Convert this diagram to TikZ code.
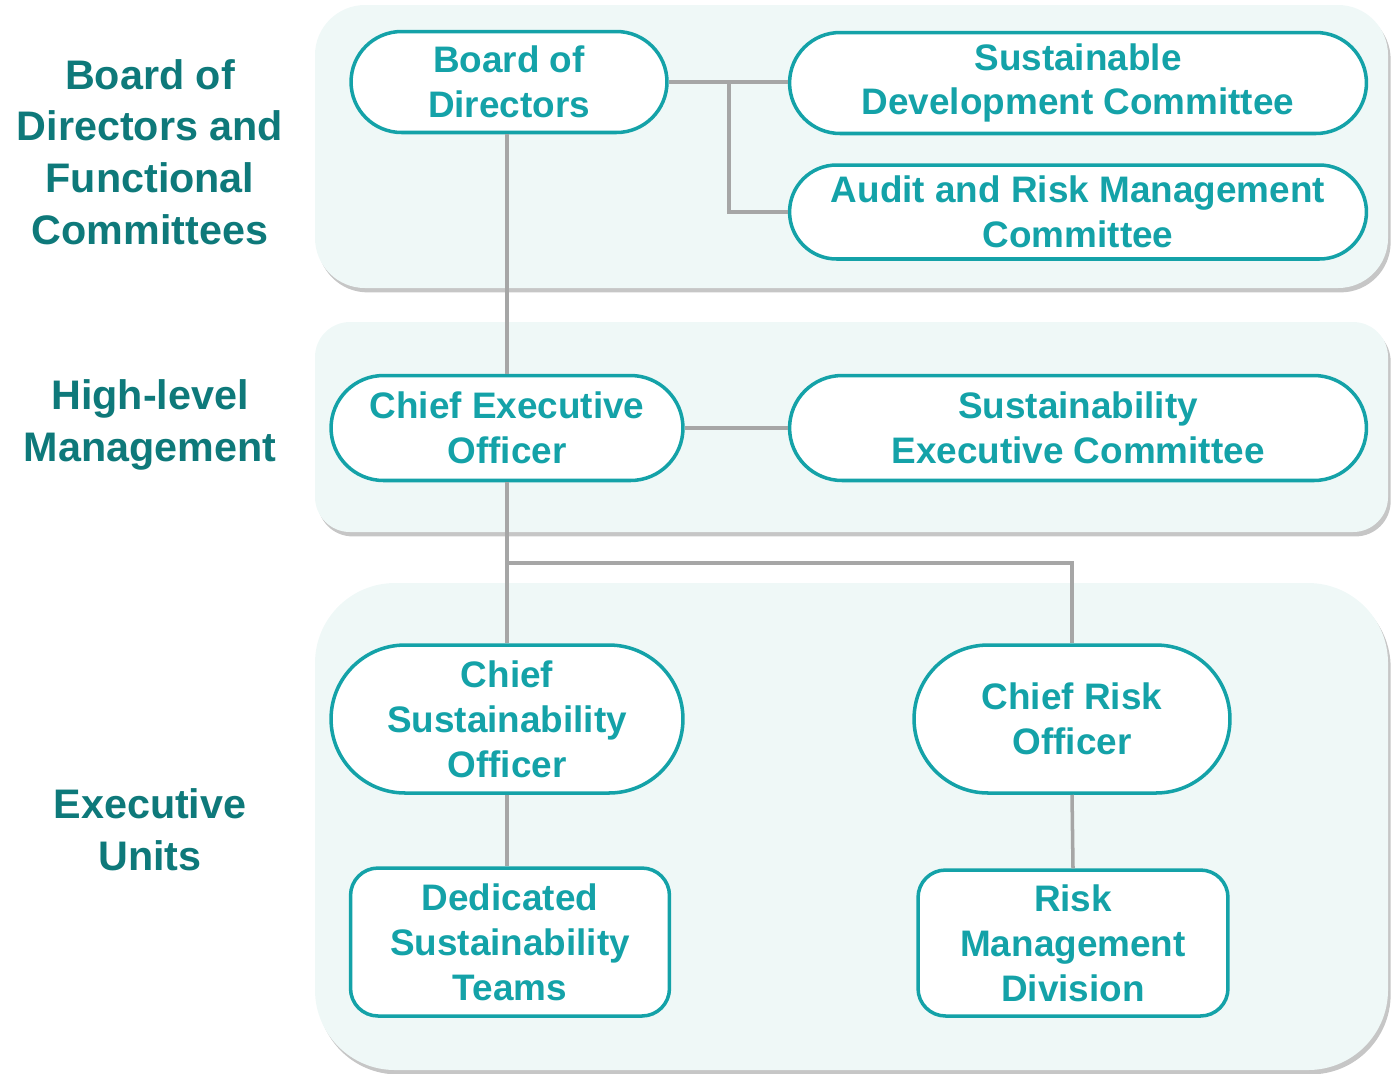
\documentclass[tikz,border=0pt]{standalone}
\usepackage{fontspec}
\setmainfont{Liberation Sans}
\usetikzlibrary{shapes.misc,shadows}
\definecolor{TealBox}{RGB}{20,162,168}
\definecolor{TealDark}{RGB}{14,121,122}
\definecolor{PanelFill}{RGB}{239,248,247}
\definecolor{LineGray}{RGB}{166,166,166}
\tikzset{
  panel/.style={fill=PanelFill, draw=none,
    drop shadow={shadow xshift=1.5pt, shadow yshift=-2.5pt, opacity=0.45, fill=gray}},
  pill/.style={rounded rectangle, draw=TealBox, line width=2pt, fill=white,
    text=TealBox, align=center, inner sep=0pt,
    font=\fontsize{21}{25.5}\selectfont\bfseries},
  box/.style={rectangle, rounded corners=0.55cm, draw=TealBox, line width=2pt, fill=white,
    text=TealBox, align=center, inner sep=0pt,
    font=\fontsize{21}{25.5}\selectfont\bfseries},
  lab/.style={text=TealDark, align=center, inner sep=0pt,
    font=\fontsize{23.5}{29.5}\selectfont\bfseries},
  link/.style={draw=LineGray, line width=2pt}
}
\begin{document}
\begin{tikzpicture}[x=0.02cm,y=-0.02cm]
  \useasboundingbox (0,0) rectangle (1391,1073);
  %Panels
  \path[panel, rounded corners=1cm] (315,5) rectangle (1388,288);
  \path[panel, rounded corners=0.7cm] (315,322) rectangle (1388,532);
  \path[panel, rounded corners=1.6cm] (315,583) rectangle (1388,1070);
  %Level labels
  \node[lab] (lvlboard) at (150,152) {Board of\\Directors and\\Functional\\Committees};
  \node[lab] (lvlhigh) at (150,425) {High-level\\Management};
  \node[lab] (lvlexec) at (150,830) {Executive\\Units};
  %Nodes
  \node[pill, minimum width=6.32cm, minimum height=2.02cm] (bod) at (509,82) {Board of\\Directors};
  \node[pill, minimum width=11.54cm, minimum height=2.02cm] (sdc) at (1078,83) {Sustainable\\Development Committee};
  \node[pill, minimum width=11.54cm, minimum height=1.88cm] (armc) at (1078,212) {Audit and Risk Management\\Committee};
  \node[pill, minimum width=7.04cm, minimum height=2.1cm] (ceo) at (507,428) {Chief Executive\\Officer};
  \node[pill, minimum width=11.54cm, minimum height=2.1cm] (sec) at (1078,428) {Sustainability\\Executive Committee};
  \node[pill, minimum width=7.04cm, minimum height=2.96cm] (cso) at (507,719) {Chief\\Sustainability\\Officer};
  \node[pill, minimum width=6.32cm, minimum height=2.96cm] (cro) at (1072,719) {Chief Risk\\Officer};
  \node[box, minimum width=6.38cm, minimum height=2.96cm] (dst) at (510,942) {Dedicated\\Sustainability\\Teams};
  \node[box, minimum width=6.2cm, minimum height=2.92cm] (rmd) at (1073,943) {Risk\\Management\\Division};
  %Lines
  \coordinate (jboard) at (729,82);
  \coordinate (jceo) at (507,563);
  \draw[link] (bod.east) -- (sdc.west |- bod.east);
  \draw[link] (jboard) |- (armc.west);
  \draw[link] (ceo.north |- bod.south) -- (ceo.north);
  \draw[link] (ceo.east) -- (sec.west);
  \draw[link] (ceo.south) -- (cso.north);
  \draw[link] (jceo) -| (cro.north);
  \draw[link] (cso.south) -- (cso.south |- dst.north);
  \draw[link] (cro.south) -- (rmd.north);
\end{tikzpicture}
\end{document}
